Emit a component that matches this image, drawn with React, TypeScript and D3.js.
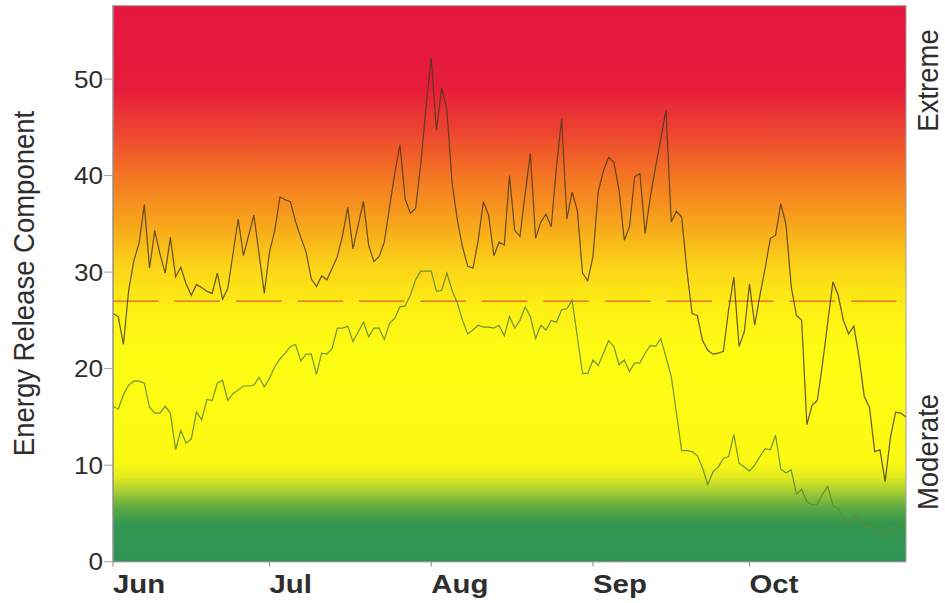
import React from "react";
import * as d3 from "d3";

// ---- data (daily, Jun 1 .. Oct 31) ----
const startDate = new Date(2012, 5, 1);
const endDate = new Date(2012, 9, 31);

const ercCurrent = [
  25.7, 25.4, 22.5, 28.1, 31.2, 33.0, 37.0, 30.4, 34.3, 31.9,
  29.9, 33.6, 29.5, 30.5, 28.8, 27.6, 28.7, 28.4, 28.0, 27.8,
  29.9, 27.2, 28.3, 31.9, 35.5, 31.7, 33.8, 35.9, 31.9, 27.8,
  32.1, 34.3, 37.8, 37.5, 37.3, 35.2, 33.6, 32.1, 29.3, 28.5,
  29.6, 29.2, 30.4, 31.6, 33.8, 36.7, 32.4, 34.9, 37.3, 32.8,
  31.1, 31.6, 33.1, 36.7, 40.2, 43.2, 37.6, 36.1, 36.6, 41.2,
  47.1, 52.2, 44.7, 49.1, 46.8, 39.2, 35.4, 32.6, 30.6, 30.4,
  33.3, 37.3, 35.9, 31.7, 33.1, 32.8, 40.0, 34.3, 33.7, 38.1,
  42.3, 33.5, 35.2, 36.0, 34.7, 40.9, 45.9, 35.5, 38.3, 36.4,
  29.9, 29.1, 31.6, 38.3, 40.5, 41.9, 41.4, 38.5, 33.3, 34.7,
  39.9, 40.2, 34.0, 37.8, 40.9, 43.8, 46.8, 35.2, 36.3, 35.7,
  30.2, 25.7, 25.5, 22.9, 21.9, 21.5, 21.6, 21.8, 26.1, 29.5,
  22.3, 23.8, 28.8, 24.5, 27.6, 30.4, 33.5, 33.8, 37.1, 34.9,
  28.5, 25.5, 25.0, 14.2, 16.2, 16.7, 20.5, 24.8, 29.0, 27.6,
  25.0, 23.6, 24.4, 21.2, 17.1, 16.0, 11.4, 11.6, 8.3, 12.8,
  15.5, 15.4, 15.0,
];

const ercAverage = [
  16.1, 15.8, 17.3, 18.3, 18.7, 18.7, 18.5, 16.0, 15.4, 15.4,
  16.1, 15.4, 11.6, 13.6, 12.3, 12.7, 15.5, 14.7, 16.8, 16.7,
  18.5, 18.8, 16.7, 17.4, 17.8, 18.2, 18.2, 18.3, 19.1, 18.1,
  19.0, 20.2, 21.0, 21.6, 22.3, 22.5, 20.8, 21.5, 21.5, 19.4,
  21.6, 21.5, 22.1, 24.2, 24.2, 24.4, 22.8, 23.8, 24.8, 23.3,
  24.2, 24.2, 23.0, 24.7, 25.2, 26.4, 26.5, 27.6, 29.2, 30.1,
  30.1, 30.1, 28.0, 28.1, 29.9, 28.1, 26.8, 25.0, 23.6, 24.0,
  24.5, 24.3, 24.3, 24.2, 24.5, 23.4, 25.4, 24.2, 25.0, 26.4,
  25.4, 23.1, 24.5, 24.0, 25.0, 24.8, 26.1, 26.2, 27.1, 23.3,
  19.5, 19.5, 20.9, 20.3, 21.6, 22.9, 22.3, 20.4, 20.9, 19.7,
  20.6, 20.6, 21.6, 22.4, 22.3, 23.1, 21.2, 19.2, 15.4, 11.5,
  11.5, 11.4, 11.0, 9.7, 8.0, 9.3, 9.8, 10.7, 10.9, 13.2,
  10.2, 9.8, 9.4, 10.0, 10.9, 11.7, 11.6, 13.1, 9.6, 9.2,
  9.5, 7.0, 7.5, 6.2, 5.9, 5.9, 7.0, 7.8, 5.8, 5.5,
  4.5, 4.0, 4.7, 4.5, 4.0, 3.5, 3.2, 2.8, 3.0, 3.6,
  3.2, 3.9, 4.0,
];

const thresholdValue = 27;
const yTicks = [0, 10, 20, 30, 40, 50];
const yMax = 57.6;
const yTitle = "Energy Release Component";
const topLabel = "Extreme";
const bottomLabel = "Moderate";

// gradient stops: [value, colour]
const gradientStops: [number, string][] = [
  [57.6, "#e5163f"],
  [49, "#e71c3b"],
  [44.5, "#ed4530"],
  [40, "#f47523"],
  [35, "#f8a51b"],
  [30.5, "#fbd418"],
  [26.5, "#fdee14"],
  [22, "#fffc14"],
  [10.5, "#fdf913"],
  [8.8, "#e4ec1e"],
  [7.2, "#a3cc33"],
  [5.6, "#5daa43"],
  [4, "#35984f"],
  [0, "#2d9356"],
];

const W = 945;
const H = 603;
const margin = { left: 113, right: 39, top: 5.7, bottom: 41.3 };
const plotW = W - margin.left - margin.right;
const plotH = H - margin.top - margin.bottom;

export default function App() {
  const x = d3.scaleTime().domain([startDate, endDate]).range([margin.left, margin.left + plotW]);
  const y = d3.scaleLinear().domain([0, yMax]).range([margin.top + plotH, margin.top]);

  const dates = ercCurrent.map((_, i) => d3.timeDay.offset(startDate, i));
  const line = d3
    .line<number>()
    .x((_, i) => x(dates[i]))
    .y((d) => y(d));

  const months = d3.timeMonth.range(startDate, endDate);
  const fmt = d3.timeFormat("%b");
  const x0 = margin.left;
  const x1 = margin.left + plotW;
  const yTop = margin.top;
  const yBot = margin.top + plotH;
  const textColor = "#2e2e2e";
  const font = "Liberation Sans, Arial, Helvetica, sans-serif";

  return (
    <svg
      width={W}
      height={H}
      style={{ position: "absolute", left: 0, top: 0, background: "#fff" }}
      fontFamily={font}
    >
      <defs>
        <linearGradient id="bg" gradientUnits="userSpaceOnUse" x1={0} x2={0} y1={y(yMax)} y2={y(0)}>
          {gradientStops.map(([v, c], i) => (
            <stop key={i} offset={(y(v) - y(yMax)) / (y(0) - y(yMax))} stopColor={c} />
          ))}
        </linearGradient>
      </defs>
      <rect x={x0} y={yTop} width={plotW} height={plotH} fill="url(#bg)" />

      {/* threshold */}
      <line
        x1={x0}
        x2={x1}
        y1={y(thresholdValue)}
        y2={y(thresholdValue)}
        stroke="#e8583a"
        strokeWidth={1.3}
        strokeDasharray="45.5,16"
      />

      {/* series */}
      <path d={line(ercAverage) || ""} fill="none" stroke="#5f8a30" strokeWidth={1.2} strokeOpacity={0.9} />
      <path d={line(ercCurrent) || ""} fill="none" stroke="#4a3c1c" strokeWidth={1.2} strokeOpacity={0.85} />

      {/* frame */}
      <rect x={x0} y={yTop} width={plotW} height={plotH} fill="none" stroke="#a0a0a0" strokeWidth={1} />
      <line x1={x0} x2={x0} y1={yTop} y2={yBot} stroke="#8a8a8a" strokeWidth={1} />
      <line x1={x0} x2={x1} y1={yBot} y2={yBot} stroke="#8a8a8a" strokeWidth={1} />

      {/* y axis */}
      {yTicks.map((t) => (
        <g key={t}>
          <line x1={x0 - 9} x2={x0} y1={y(t)} y2={y(t)} stroke="#a0a0a0" strokeWidth={1} />
          <text
            transform={`translate(${x0 - 10},${y(t) + 8.5}) scale(1.09,1)`}
            textAnchor="end"
            fontSize={24}
            fill={textColor}
          >
            {t}
          </text>
        </g>
      ))}
      <text
        transform={`translate(33.5,283.5) scale(1.06,1) rotate(-90)`}
        textAnchor="middle"
        fontSize={27.5}
        fill={textColor}
      >
        {yTitle}
      </text>

      {/* x axis */}
      {months.map((m) => (
        <g key={m.getTime()}>
          <line x1={x(m)} x2={x(m)} y1={yBot} y2={yBot + 5} stroke="#8a8a8a" strokeWidth={1} />
          <text
            transform={`translate(${x(m)},${593}) scale(1.13,1)`}
            textAnchor="start"
            fontSize={26}
            fontWeight="bold"
            fill={textColor}
          >
            {fmt(m)}
          </text>
        </g>
      ))}

      {/* right labels */}
      <text
        transform={`translate(938,80.5) scale(1.04,1) rotate(-90)`}
        textAnchor="middle"
        fontSize={27.5}
        fill={textColor}
      >
        {topLabel}
      </text>
      <text
        transform={`translate(938,452) scale(1.04,1) rotate(-90)`}
        textAnchor="middle"
        fontSize={27.5}
        fill={textColor}
      >
        {bottomLabel}
      </text>
    </svg>
  );
}
